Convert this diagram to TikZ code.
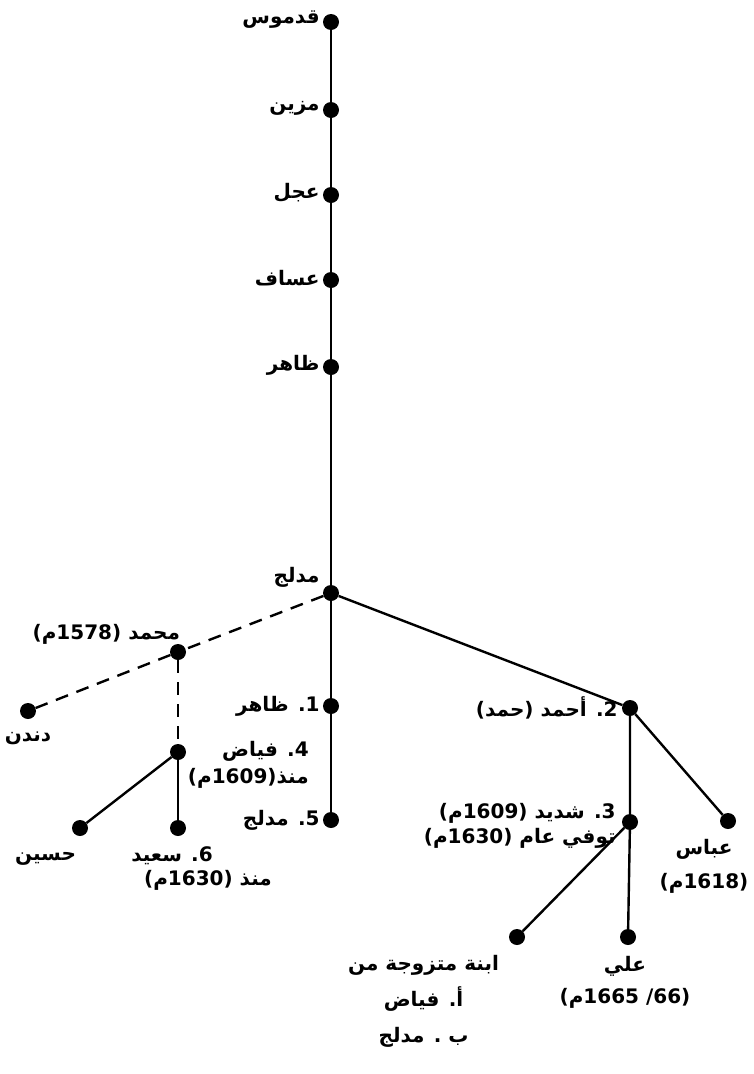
\documentclass[tikz,border=0pt]{standalone}
\usepackage{fontspec}
\usepackage{tikz}
\usetikzlibrary{positioning}
\newfontfamily\arabicfont[Script=Arabic]{DejaVu Sans}
\TeXXeTstate=1
\newcommand{\ar}[1]{\beginR #1\endR}

\begin{document}
\begin{tikzpicture}[
  x=1pt, y=-1pt,
  dot/.style={circle, fill, inner sep=0pt, minimum size=16pt},
  lbl/.style={font=\arabicfont\bfseries\fontsize{20}{30}\selectfont,
    inner sep=0pt, align=center},
  tie/.style={line width=2.4pt},
  guess/.style={line width=2.4pt, dash pattern=on 13pt off 9pt},
]
  \useasboundingbox (0,0) rectangle (753,1074);

  \node[dot] (qad) at (331,22) {};
  \node[dot] (maz) at (331,110) {};
  \node[dot] (ajl) at (331,195) {};
  \node[dot] (asf) at (331,280) {};
  \node[dot] (zhr) at (331,367) {};
  \node[dot] (mdl) at (331,593) {};
  \node[dot] (zhr1) at (331,706) {};
  \node[dot] (mdl5) at (331,820) {};
  \node[dot] (mhd) at (178,652) {};
  \node[dot] (dnd) at (28,711) {};
  \node[dot] (fyd) at (178,752) {};
  \node[dot] (hsn) at (80,828) {};
  \node[dot] (sid) at (178,828) {};
  \node[dot] (ahm) at (630,708) {};
  \node[dot] (shd) at (630,822) {};
  \node[dot] (abs) at (728,821) {};
  \node[dot] (ibn) at (517,937) {};
  \node[dot] (ali) at (628,937) {};

  \node[lbl, left=3pt of qad, yshift=2pt] (qadl) {\ar{قدموس}};
  \node[lbl, left=3pt of maz, yshift=2pt] (mazl) {\ar{مزين}};
  \node[lbl, left=3pt of ajl, yshift=2pt] (ajll) {\ar{عجل}};
  \node[lbl, left=3pt of asf, yshift=2pt] (asfl) {\ar{عساف}};
  \node[lbl, left=3pt of zhr, yshift=2pt] (zhrl) {\ar{ظاهر}};
  \node[lbl, left=3pt of mdl, yshift=16pt] (mdll) {\ar{مدلج}};
  \node[lbl, above left=2pt and -8pt of mhd] (mhdl) {\ar{محمد (1578م)}};
  \node[lbl, below=12pt of dnd] (dndl) {\ar{دندن}};
  \node[lbl, left=3pt of zhr1] (zhr1l) {\ar{1. ظاهر}};
  \node[lbl, left=3pt of mdl5] (mdl5l) {\ar{5. مدلج}};
  \node[lbl, below right=-17pt and 4pt of fyd, align=right] (fydl)
    {\ar{4. فياض}\\[-3pt]\ar{منذ(1609م)}};
  \node[lbl, below left=18pt and -2pt of hsn] (hsnl) {\ar{حسين}};
  \node[lbl, below=10pt of sid, xshift=-6pt] (sidl) {\ar{6. سعيد}};
  \node[lbl, below=5pt of sidl, xshift=36pt] (sidd) {\ar{منذ (1630م)}};
  \node[lbl, left=4pt of ahm] (ahml) {\ar{2. أحمد (حمد)}};
  \node[lbl, left=6pt of shd, yshift=-4pt, align=right] (shdl)
    {\ar{3. شديد (1609م)}\\[-5pt]\ar{توفي عام (1630م)}};
  \node[lbl, below=10pt of abs, xshift=-24pt] (absl)
    {\ar{عباس}\\[4pt]\ar{(1618م)}};
  \node[lbl, below left=12pt and 12pt of ibn] (ibnl)
    {\ar{ابنة متزوجة من}\\[6pt]\ar{أ. فياض}\\[6pt]\ar{ب . مدلج}};
  \node[lbl, below=11pt of ali, xshift=-3pt] (alil)
    {\ar{علي}\\[2pt]\ar{(66/ 1665م)}};

  \draw[tie] (qad) -- (maz) -- (ajl) -- (asf) -- (zhr) -- (mdl) -- (zhr1) -- (mdl5);
  \draw[tie] (mdl) -- (ahm) -- (shd);
  \draw[tie] (ahm) -- (abs);
  \draw[tie] (shd) -- (ibn);
  \draw[tie] (shd) -- (ali);
  \draw[guess] (mdl) -- (mhd) -- (dnd);
  \draw[guess] (mhd) -- (fyd);
  \draw[tie] (fyd) -- (hsn);
  \draw[tie] (fyd) -- (sid);
\end{tikzpicture}
\end{document}
